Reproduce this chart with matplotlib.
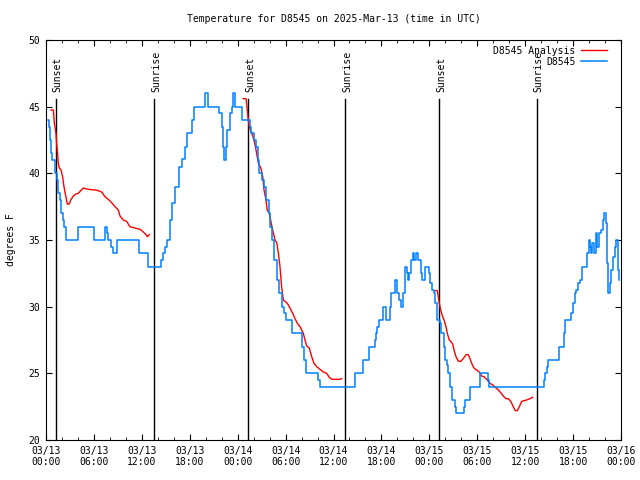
import matplotlib
matplotlib.use('Agg')
import matplotlib.pyplot as plt
import numpy as np

# hours since 03/13 00:00 UTC
obs_hours = [0.29, 0.42, 0.55, 0.65, 0.72, 1.1, 1.4, 1.55, 1.75, 1.9, 2.1, 2.25, 2.5,
             4.0, 6.05, 7.4, 7.6, 7.8, 8.2, 8.35, 8.93, 11.7, 12.8, 14.4, 14.6, 14.85,
             15.1, 15.5, 15.8, 16.15, 16.7, 17.0, 17.4, 17.6, 18.25, 18.5, 19.9, 20.3,
             21.6, 22.0, 22.2, 22.3, 22.5, 22.7, 23.0, 23.25, 23.45, 23.7, 24.5, 25.5,
             25.7, 26.0, 26.3, 26.6, 26.7, 27.1, 27.3, 27.6, 27.9, 28.05, 28.26, 28.55,
             28.9, 29.2, 29.5, 29.8, 30.0, 30.8, 32.1, 32.3, 32.6, 34.1, 34.3, 38.7,
             39.65, 40.5, 41.2, 41.3, 41.5, 41.7, 42.2, 42.6, 43.1, 43.2, 43.7, 43.9,
             44.2, 44.4, 44.75, 44.95, 45.2, 45.35, 45.5, 45.7, 45.9, 46.1, 46.3, 46.6,
             47.0, 47.1, 47.4, 47.5, 47.9, 48.1, 48.3, 48.6, 48.75, 48.9, 49.0, 49.3,
             49.4, 49.8, 50.0, 50.2, 50.35, 50.6, 50.9, 51.2, 51.3, 52.3, 52.5, 53.1,
             54.4, 55.3, 55.45, 62.3, 62.45, 62.7, 62.9, 64.2, 64.9, 65.05, 65.8, 65.95,
             66.2, 66.4, 66.6, 66.85, 67.15, 67.8, 67.95, 68.1, 68.2, 68.4, 68.6, 68.85,
             68.95, 69.3, 69.45, 69.7, 69.9, 70.1, 70.2, 70.3, 70.4, 70.6, 70.8, 71.0,
             71.2, 71.4, 71.6, 71.75]
obs_temp = [44, 43.5, 42.5, 41.5, 41, 40, 39.5, 38.5, 38, 37, 36.5, 36, 35,
            36, 35, 36, 35.5, 35, 34.5, 34, 35, 34, 33, 33.5, 34, 34.5,
            35, 36.5, 37.75, 39, 40.5, 41.1, 42, 43, 44, 45, 46, 45,
            44.5, 43.5, 42, 41, 42, 43.25, 44.5, 45, 46, 45, 44, 43.5,
            43, 42.5, 42, 41, 40, 39.5, 39, 38, 37, 36, 35, 33.5,
            32, 31, 30, 29.5, 29, 28, 27, 26, 25, 24.5, 24, 25,
            26, 27, 27.5, 28, 28.5, 29, 30, 29, 30, 31, 32, 31,
            30.5, 30, 31, 33, 32.5, 32, 32.5, 33.5, 34, 33.5, 34, 33.5,
            32.5, 32, 32.5, 33, 32.5, 31.75, 31.25, 31, 30.25, 30, 29, 28.75,
            28, 27, 26, 25.6, 25, 24, 23, 22.5, 22, 22.5, 23, 24,
            25, 24.5, 24, 24.5, 25, 25.5, 26, 27, 28, 29, 29.5, 30.25,
            31, 31.25, 31.75, 32, 33, 34, 35, 34.5, 34, 34.75, 34, 35.5,
            34.5, 35.5, 35.75, 36.5, 37, 36.25, 34.75, 33.25, 31, 31.75, 32.75, 33.75,
            34.5, 35, 32.75, 32]

nan = float('nan')
ana_hours = [0.63, 0.92, 1.05, 1.25, 1.33, 1.45, 1.54, 1.67, 1.88, 2.08, 2.25, 2.5, 2.67,
             2.92, 3.09, 3.42, 3.75, 4.05, 4.35, 4.67, 5.3, 6.14, 6.55, 6.97, 7.39, 7.8,
             8.22, 8.64, 9.06, 9.27, 9.68, 10.1, 10.5, 11.15, 11.77, 12.19, 12.53, 12.69,
             12.94, 18.0,
             24.7, 25.05, 25.12, 25.25, 25.33, 25.45, 25.76, 26.05, 26.3, 26.6, 26.9,
             27.14, 27.3, 27.55, 27.7, 27.96, 28.13, 28.38, 28.68, 28.89, 29.1, 29.3,
             29.5, 29.72, 29.93, 30.22, 30.55, 30.89, 31.18, 31.47, 31.81, 32.02, 32.22,
             32.43, 32.64, 32.97, 33.27, 33.56, 33.9, 34.31, 34.73, 35.15, 35.48, 35.78,
             36.4, 36.82, 37.03, 42.0,
             48.71, 49.0, 49.12, 49.25, 49.42, 49.67, 49.84, 50.09, 50.25, 50.5, 50.68,
             50.93, 51.09, 51.34, 51.63, 51.93, 52.25, 52.59, 52.88, 53.09, 53.3, 53.59,
             53.93, 54.25, 54.55, 54.84, 55.1, 55.38, 55.6, 56.0, 56.35, 56.64, 56.94,
             57.26, 57.6, 57.89, 58.19, 58.51, 58.76, 59.02, 59.27, 59.57, 59.85, 60.19,
             60.6, 60.94]
ana_temp = [44.75, 44.75, 43.75, 43.0, 42.25, 41.5, 40.75, 40.4, 40.25, 39.75, 39.0, 38.25, 37.7,
            37.7, 38.0, 38.3, 38.45, 38.5, 38.7, 38.9, 38.8, 38.75, 38.7, 38.6, 38.25, 38.05,
            37.8, 37.5, 37.25, 36.8, 36.5, 36.4, 36.0, 35.9, 35.8, 35.6, 35.4, 35.25,
            35.4, nan,
            45.6, 45.6, 45.25, 44.5, 44.0, 43.5, 43.0, 42.5, 41.75, 40.75, 40.4,
            39.75, 38.75, 38.0, 37.25, 37.0, 36.5, 35.75, 35.0, 34.8, 34.0, 33.0,
            31.5, 30.5, 30.4, 30.25, 29.9, 29.5, 29.1, 28.75, 28.5, 28.25, 28.0,
            27.5, 27.05, 26.9, 26.25, 25.75, 25.5, 25.3, 25.1, 25.0, 24.7, 24.55,
            24.55, 24.55, 24.6, nan,
            31.2, 31.2, 30.75, 30.25, 29.75, 29.25, 29.0, 28.5, 28.0, 27.5, 27.4,
            27.2, 26.75, 26.25, 25.9, 25.9, 26.1, 26.4, 26.4, 26.1, 25.75, 25.4,
            25.25, 25.1, 24.8, 24.75, 24.6, 24.4, 24.25, 24.1, 23.9, 23.75, 23.55,
            23.3, 23.1, 23.1, 22.9, 22.5, 22.2, 22.2, 22.5, 22.9, 22.95, 23.0,
            23.1, 23.2]

event_hours = [1.25, 13.56, 25.33, 37.5, 49.25, 61.5]
event_names = ['Sunset', 'Sunrise', 'Sunset', 'Sunrise', 'Sunset', 'Sunrise']

tick_hours = list(range(0, 73, 6))
tick_labels = ['03/13\n00:00', '03/13\n06:00', '03/13\n12:00', '03/13\n18:00',
               '03/14\n00:00', '03/14\n06:00', '03/14\n12:00', '03/14\n18:00',
               '03/15\n00:00', '03/15\n06:00', '03/15\n12:00', '03/15\n18:00',
               '03/16\n00:00']

plt.rcParams['font.family'] = 'DejaVu Sans Mono'
plt.rcParams['font.size'] = 7

fig = plt.figure(figsize=(6.4, 4.8), dpi=100)
ax = fig.add_axes([46/640, 40/480, 575/640, 400/480])

for h, name in zip(event_hours, event_names):
    ax.plot([h, h], [20, 45.6], color='black', lw=1)
    ax.text(h + 0.2, 46.1, name, rotation=90, ha='center', va='bottom', fontsize=7)

ax.plot(ana_hours, ana_temp, color='#ff0000', lw=1, label='D8545 Analysis')
ax.plot(obs_hours, obs_temp, color='#0080ff', lw=1.1, drawstyle='steps-post', label='D8545')

ax.set_xlim(0, 72)
ax.set_ylim(20, 50)
ax.set_xticks(tick_hours)
ax.set_xticklabels(tick_labels)
ax.set_xticks(np.arange(0, 73, 2), minor=True)
ax.set_yticks(range(20, 51, 5))
ax.tick_params(which='both', direction='in', top=True, right=True, pad=4)
ax.tick_params(which='major', length=4)
ax.tick_params(which='minor', length=2)

ax.set_title('Temperature for D8545 on 2025-Mar-13 (time in UTC)', fontsize=7, pad=13)
ax.set_ylabel('degrees F', labelpad=9)

ax.legend(loc='upper right', bbox_to_anchor=(0.985, 1.0), frameon=False,
          markerfirst=False, handlelength=2.6, handletextpad=0.6,
          labelspacing=0.1, borderaxespad=0.2, fontsize=7)

fig.savefig('out.png', dpi=100)
